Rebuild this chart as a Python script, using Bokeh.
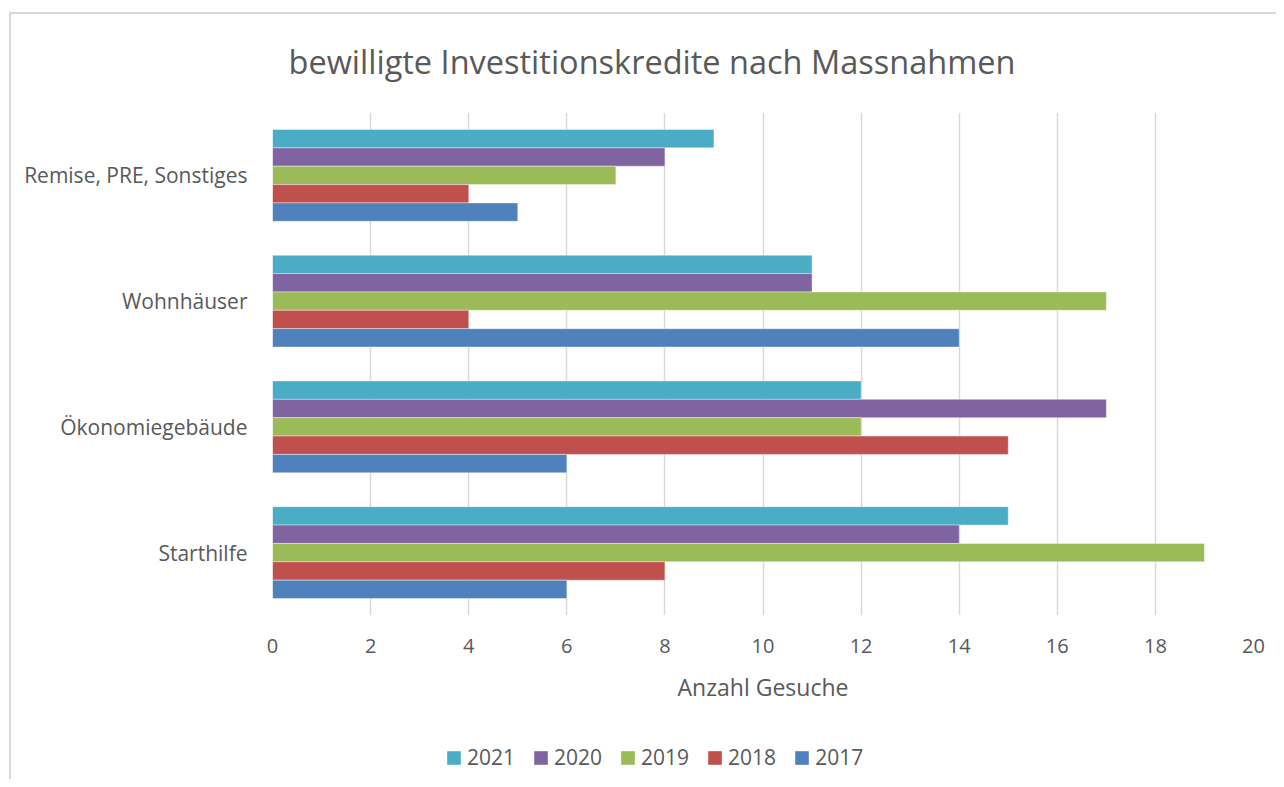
from bokeh.plotting import figure
from bokeh.layouts import column
from bokeh.models import (ColumnDataSource, FactorRange, Range1d, SingleIntervalTicker,
                          Legend, LegendItem, Title)
from bokeh.transform import dodge
from bokeh.embed import file_html
from bokeh.resources import INLINE

categories = ["Starthilfe", "Ökonomiegebäude", "Wohnhäuser", "Remise, PRE, Sonstiges"]
years = ["2021", "2020", "2019", "2018", "2017"]
v2021 = [15, 12, 11, 9]
v2020 = [14, 17, 11, 8]
v2019 = [19, 12, 17, 7]
v2018 = [8, 15, 4, 4]
v2017 = [6, 6, 14, 5]
series = [v2021, v2020, v2019, v2018, v2017]
colors = ["#4BACC6", "#8064A2", "#9BBB59", "#C0504D", "#4F81BD"]

FONT = "Open Sans"
TXT = "#595959"
W = 1276
H_MAIN = 720
H_LEG = 59

src = ColumnDataSource(dict(cat=categories, **{"y" + y: s for y, s in zip(years, series)}))

p = figure(width=W, height=H_MAIN, output_backend="svg", toolbar_location=None,
           y_range=FactorRange(factors=categories, range_padding=0),
           x_range=Range1d(0, 20),
           min_border_left=272, min_border_right=W - 1253, min_border_top=112,
           min_border_bottom=H_MAIN - 615)
p.outline_line_color = None
p.background_fill_color = "white"
p.border_fill_color = None

bh = 0.146
for i, (y, c) in enumerate(zip(years, colors)):
    off = (2 - i) * bh
    p.hbar(y=dodge("cat", off, range=p.y_range), right="y" + y, left=0, height=bh,
           source=src, fill_color=c, line_color="white", line_alpha=0.5, line_width=0.8)

p.title = Title(text="bewilligte Investitionskredite nach Massnahmen", align="left",
                offset=16, standoff=58, text_font=FONT, text_font_size="32.5px",
                text_font_style="normal", text_color=TXT)

p.xaxis.ticker = SingleIntervalTicker(interval=2)
p.xaxis.axis_line_color = None
p.xaxis.major_tick_line_color = None
p.xaxis.minor_tick_line_color = None
p.xaxis.major_label_text_font = FONT
p.xaxis.major_label_text_font_size = "20px"
p.xaxis.major_label_text_color = TXT
p.xaxis.major_label_standoff = 17
p.xaxis.axis_label = "Anzahl Gesuche"
p.xaxis.axis_label_text_font = FONT
p.xaxis.axis_label_text_font_size = "23px"
p.xaxis.axis_label_text_font_style = "normal"
p.xaxis.axis_label_text_color = TXT
p.xaxis.axis_label_standoff = 15

p.yaxis.axis_line_color = None
p.yaxis.major_tick_line_color = None
p.yaxis.minor_tick_line_color = None
p.yaxis.major_label_text_font = FONT
p.yaxis.major_label_text_font_size = "21px"
p.yaxis.major_label_text_color = TXT
p.yaxis.major_label_standoff = 19

p.xgrid.grid_line_color = "#d9d9d9"
p.xgrid.grid_line_width = 1.5
p.ygrid.grid_line_color = None

# legend strip below the chart
pl = figure(width=W, height=H_LEG, output_backend="svg", toolbar_location=None,
            x_range=Range1d(0, 1), y_range=Range1d(0, 1), min_border=0)
pl.axis.visible = False
pl.grid.visible = False
pl.outline_line_color = None
pl.background_fill_color = None
pl.border_fill_color = None
items = []
for y, c in zip(years, colors):
    r = pl.hbar(y=[-5], right=[1], left=0, height=0.1, fill_color=c, line_color=None)
    items.append(LegendItem(label=y, renderers=[r]))
legend = Legend(items=items, orientation="horizontal", location=(173, 8),
                glyph_width=17, glyph_height=17, label_standoff=5, spacing=17,
                padding=0, margin=0, border_line_color=None, background_fill_alpha=0,
                label_text_font=FONT, label_text_font_size="21px", label_text_color=TXT)
pl.add_layout(legend, "center")

layout = column(p, pl, spacing=0)
layout.styles = {
    "background-color": "white",
    "background-image": "linear-gradient(#d9d9d9, #d9d9d9), linear-gradient(#d9d9d9, #d9d9d9)",
    "background-size": "2px 100%, 100% 2px",
    "background-position": "9px 12px, 9px 12px",
    "background-repeat": "no-repeat",
}

open("out.html", "w").write(file_html(layout, INLINE))
